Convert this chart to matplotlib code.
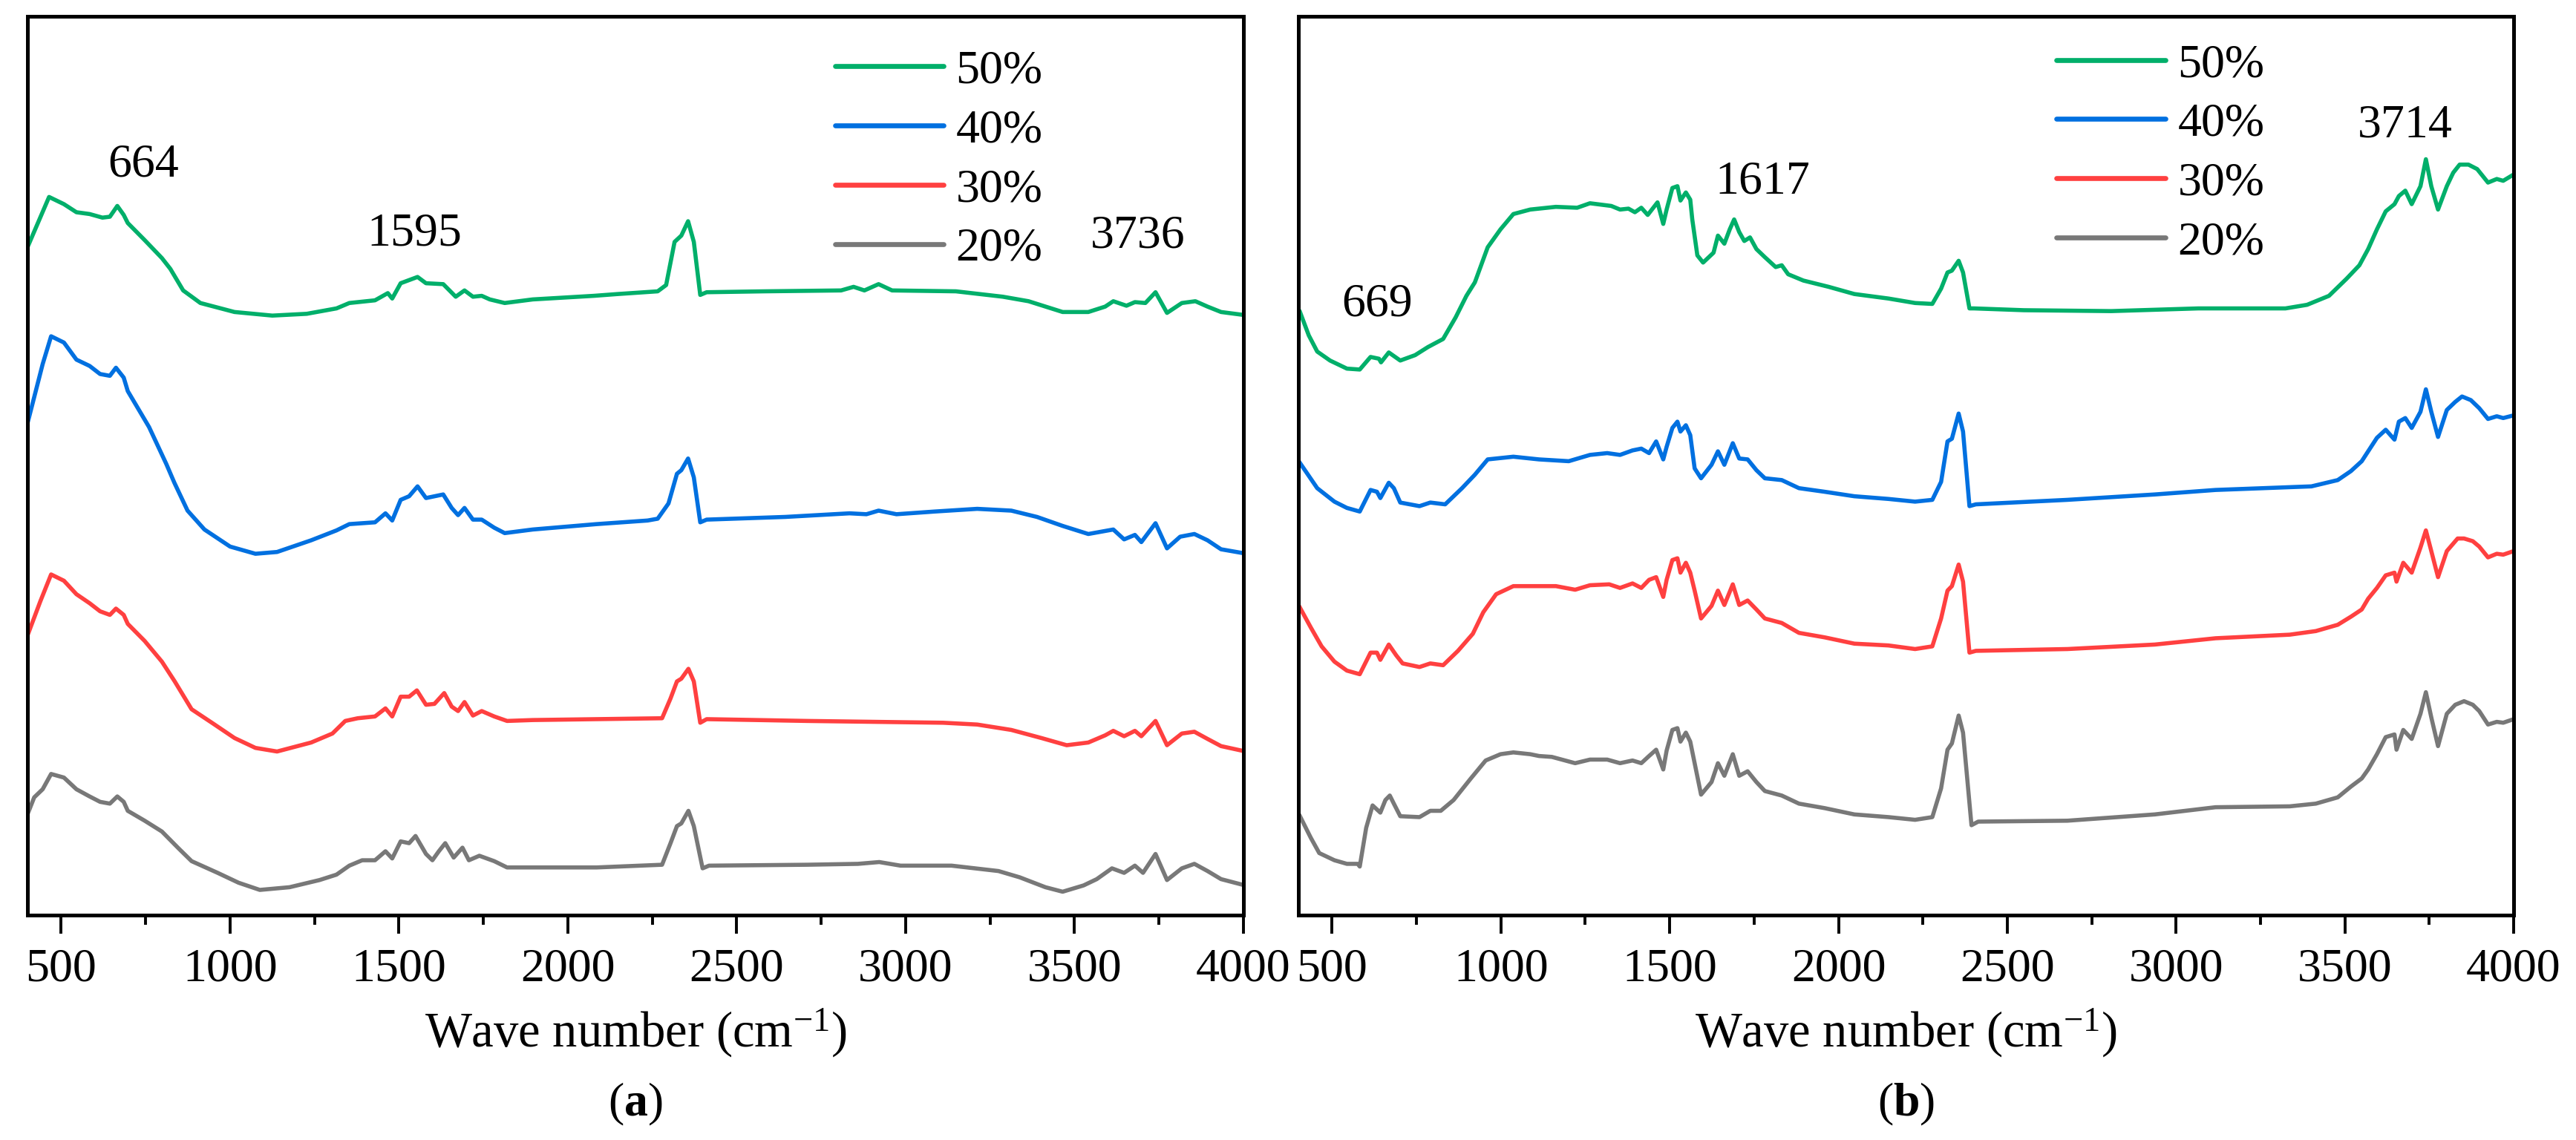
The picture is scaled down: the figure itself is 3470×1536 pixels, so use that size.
import matplotlib
matplotlib.use("Agg")
import matplotlib.pyplot as plt
from matplotlib.ticker import MultipleLocator

# ---------------- data (panel a) ----------------
a50_x = [400,464,508,545,584,622,644,666,685,697,747,798,823,861,912,1013,1125,1227,1315,1353,1429,1467,1480,1505,1555,1580,1631,1668,1694,1719,1745,1769,1813,1896,2077,2148,2266,2291,2316,2336,2356,2373,2392,2411,2581,2809,2846,2878,2920,2960,3149,3288,3364,3465,3541,3591,3615,3654,3679,3710,3740,3774,3818,3858,3894,3934,3995]
a50_y = [74.3,79.9,79.1,78.2,78.0,77.6,77.7,78.9,77.9,77.0,75.1,73.1,71.9,69.5,68.1,67.1,66.7,66.9,67.5,68.1,68.4,69.2,68.6,70.3,71.0,70.3,70.2,68.8,69.5,68.8,68.9,68.5,68.1,68.5,68.9,69.1,69.4,70.1,74.9,75.6,77.2,74.9,69.0,69.3,69.4,69.5,69.9,69.5,70.2,69.5,69.4,68.8,68.3,67.1,67.1,67.7,68.3,67.8,68.2,68.1,69.3,67.0,68.1,68.3,67.7,67.1,66.8]

a40_x = [400,445,470,508,545,584,615,644,662,685,697,760,811,835,874,924,1000,1075,1139,1240,1315,1353,1429,1460,1480,1505,1530,1555,1580,1631,1656,1675,1694,1719,1745,1782,1813,1896,2085,2236,2266,2298,2323,2336,2356,2373,2392,2411,2644,2834,2884,2920,2973,3086,3212,3313,3389,3465,3541,3615,3647,3679,3698,3740,3774,3813,3855,3894,3934,3995]
a40_y = [54.7,61.3,64.4,63.7,61.8,61.1,60.2,60.0,60.9,59.8,58.3,54.3,50.2,48.1,45.0,42.9,41.0,40.2,40.4,41.7,42.8,43.5,43.7,44.7,43.9,46.2,46.6,47.7,46.4,46.8,45.3,44.5,45.3,44.0,44.0,43.1,42.5,42.9,43.5,43.9,44.1,45.8,49.1,49.5,50.8,48.7,43.7,44.0,44.3,44.7,44.6,45.0,44.6,44.9,45.2,45.0,44.3,43.3,42.4,42.9,41.8,42.3,41.5,43.6,40.8,42.1,42.4,41.7,40.7,40.3]

a30_x = [400,438,470,508,545,584,615,644,662,685,697,747,798,836,886,950,1013,1075,1139,1240,1303,1341,1378,1429,1460,1480,1505,1530,1553,1580,1605,1634,1656,1675,1694,1719,1745,1782,1820,1896,2085,2279,2304,2323,2336,2357,2373,2392,2411,2708,3111,3212,3313,3402,3477,3541,3591,3615,3647,3679,3698,3740,3774,3818,3855,3894,3934,3995]
a30_y = [31.1,34.9,37.9,37.2,35.7,34.7,33.8,33.4,34.1,33.4,32.4,30.5,28.2,26.0,22.9,21.3,19.7,18.6,18.2,19.2,20.2,21.6,21.9,22.1,23.0,22.1,24.3,24.3,25.0,23.4,23.5,24.7,23.2,22.7,23.7,22.2,22.7,22.1,21.6,21.7,21.8,21.9,24.1,26.0,26.3,27.4,26.0,21.4,21.8,21.6,21.4,21.2,20.6,19.7,18.9,19.2,20.0,20.5,19.9,20.5,19.9,21.6,18.9,20.2,20.4,19.6,18.8,18.3]

a20_x = [400,420,445,470,508,545,584,615,644,666,685,697,747,798,848,886,963,1025,1088,1176,1265,1315,1353,1391,1429,1460,1480,1505,1530,1549,1580,1599,1618,1637,1662,1688,1707,1738,1782,1820,1896,2085,2279,2304,2323,2336,2357,2373,2399,2418,2708,2859,2922,2985,3136,3275,3338,3414,3465,3527,3566,3611,3647,3679,3703,3740,3774,3818,3855,3894,3934,3995]
a20_y = [11.2,13.1,14.0,15.7,15.3,14.0,13.2,12.6,12.4,13.2,12.6,11.6,10.5,9.3,7.4,6.0,4.7,3.6,2.8,3.1,3.9,4.5,5.5,6.1,6.1,7.1,6.3,8.2,8.0,8.8,6.8,6.1,7.1,8.0,6.4,7.5,6.1,6.6,6.0,5.3,5.3,5.3,5.6,8.0,9.9,10.2,11.6,9.9,5.2,5.5,5.6,5.7,5.9,5.5,5.5,4.9,4.2,3.1,2.6,3.3,4.0,5.2,4.7,5.5,4.7,6.8,3.9,5.2,5.7,4.9,4.0,3.4]

# ---------------- data (panel b) ----------------
b50_x = [405,431,456,494,544,582,614,639,645,668,702,746,784,829,866,898,923,961,999,1037,1087,1163,1226,1264,1327,1353,1378,1397,1416,1435,1464,1481,1491,1508,1523,1532,1548,1561,1567,1582,1599,1630,1643,1662,1678,1691,1706,1721,1738,1757,1782,1814,1832,1851,1896,1971,2047,2148,2227,2278,2304,2323,2336,2356,2369,2388,2401,2549,2808,3066,3324,3388,3453,3505,3543,3569,3595,3621,3647,3660,3679,3698,3724,3740,3756,3776,3802,3821,3840,3866,3892,3924,3950,3969,4000]
b50_y = [67.1,64.5,62.7,61.7,60.8,60.7,62.1,61.9,61.5,62.6,61.7,62.3,63.2,64.1,66.5,68.9,70.4,74.3,76.3,78.0,78.5,78.8,78.7,79.2,78.9,78.5,78.6,78.2,78.7,77.9,79.3,76.9,78.5,80.9,81.1,79.5,80.4,79.6,77.4,73.4,72.6,73.7,75.6,74.7,76.3,77.4,76.0,75.0,75.4,74.1,73.2,72.1,72.3,71.3,70.6,69.9,69.1,68.6,68.1,68.0,69.7,71.5,71.7,72.8,71.5,67.5,67.5,67.3,67.2,67.5,67.5,67.9,68.9,70.8,72.3,74.1,76.3,78.3,79.1,80.0,80.6,79.1,81.1,84.1,81.1,78.5,81.1,82.6,83.5,83.5,83.0,81.5,81.9,81.7,82.4]

b40_x = [405,456,507,544,582,614,633,643,668,683,702,759,791,835,885,923,961,1037,1113,1201,1264,1315,1353,1390,1416,1439,1460,1481,1491,1508,1523,1532,1548,1561,1574,1593,1624,1643,1662,1687,1706,1731,1757,1782,1832,1883,1959,2047,2148,2227,2278,2304,2323,2336,2356,2369,2388,2407,2678,2937,3117,3401,3479,3518,3550,3569,3595,3621,3647,3660,3679,3698,3724,3740,3756,3776,3802,3827,3847,3873,3898,3924,3950,3969,4000]
b40_y = [50.3,47.5,46.0,45.3,44.9,47.3,47.1,46.4,48.1,47.5,45.9,45.5,45.9,45.7,47.5,49.0,50.7,51.0,50.7,50.5,51.2,51.4,51.2,51.7,51.9,51.4,52.7,50.7,52.1,54.2,54.9,53.8,54.5,53.4,49.7,48.6,50.1,51.6,50.1,52.5,50.8,50.7,49.5,48.6,48.4,47.5,47.1,46.6,46.3,46.0,46.2,48.2,52.7,53.0,55.8,53.8,45.5,45.7,46.2,46.8,47.3,47.7,48.4,49.4,50.5,51.6,53.1,54.0,52.9,54.9,55.3,54.2,56.0,58.5,56.0,53.2,56.2,57.1,57.7,57.3,56.4,55.2,55.5,55.3,55.6]

b30_x = [405,437,469,507,544,582,614,633,643,668,690,709,759,791,829,873,917,948,986,1037,1113,1163,1220,1264,1321,1353,1390,1416,1439,1460,1481,1491,1508,1523,1532,1548,1561,1574,1593,1624,1643,1662,1687,1706,1731,1757,1782,1832,1883,1959,2047,2148,2227,2278,2304,2323,2336,2356,2369,2388,2407,2678,2937,3117,3337,3414,3479,3518,3550,3569,3595,3621,3647,3653,3673,3698,3724,3740,3756,3776,3802,3834,3853,3879,3898,3924,3950,3969,4000]
b30_y = [34.2,32.0,29.9,28.2,27.2,26.8,29.2,29.2,28.4,30.1,28.9,28.0,27.6,28.0,27.8,29.4,31.3,33.7,35.7,36.6,36.6,36.6,36.2,36.7,36.8,36.4,36.9,36.4,37.3,37.6,35.4,37.3,39.5,39.7,38.1,39.2,38.1,36.1,33.0,34.4,36.1,34.5,36.8,34.5,35.0,34.0,33.0,32.5,31.4,30.9,30.2,30.0,29.6,29.9,33.0,36.1,36.6,39.0,37.1,29.2,29.4,29.6,30.1,30.8,31.2,31.6,32.3,33.2,34.0,35.2,36.4,37.8,38.1,37.1,39.2,38.1,40.9,42.8,40.5,37.6,40.5,41.9,41.9,41.6,41.0,39.8,40.2,40.1,40.5]

b20_x = [405,437,462,507,544,576,582,601,620,643,658,671,683,702,759,791,822,860,911,955,999,1037,1087,1113,1151,1220,1264,1315,1353,1390,1416,1439,1460,1481,1491,1508,1523,1532,1548,1561,1574,1593,1624,1643,1662,1687,1706,1731,1757,1782,1832,1883,1959,2047,2148,2227,2278,2304,2323,2336,2356,2369,2394,2414,2678,2937,3117,3337,3414,3479,3518,3550,3569,3595,3621,3647,3653,3673,3698,3724,3740,3756,3776,3802,3827,3853,3879,3898,3924,3950,3969,4000]
b20_y = [11.0,8.6,6.9,6.1,5.7,5.7,5.4,9.7,12.2,11.4,12.8,13.3,12.4,11.0,10.9,11.6,11.6,12.8,15.2,17.2,17.9,18.1,17.9,17.7,17.6,16.9,17.3,17.3,16.9,17.2,16.9,17.7,18.4,16.2,18.3,20.6,20.8,19.3,20.3,19.3,16.9,13.4,14.8,16.9,15.5,17.9,15.5,16.0,14.8,13.8,13.3,12.4,11.9,11.2,10.9,10.6,10.9,14.1,18.4,19.1,22.2,20.3,10.0,10.4,10.5,11.2,12.0,12.1,12.4,13.1,14.3,15.2,16.2,17.9,19.8,20.1,18.4,20.6,19.6,22.4,24.8,22.0,18.8,22.4,23.4,23.8,23.4,22.7,21.2,21.5,21.4,21.8]

series_labels = ["50%", "40%", "30%", "20%"]
series_colors = ["#00AF6A", "#0070E0", "#FF4040", "#787878"]

peak_labels_a = ["664", "1595", "3736"]
peak_pos_a_x = [743, 1545, 3688]
peak_pos_a_y = [83.4, 75.8, 75.5]
peak_labels_b = ["669", "1617", "3714"]
peak_pos_b_x = [633, 1776, 3679]
peak_pos_b_y = [67.9, 81.5, 87.8]

xticks = [500, 1000, 1500, 2000, 2500, 3000, 3500, 4000]
xlabel_text = r"Wave number (cm$^{-1}$)"
panel_tags = [r"($\mathbf{a}$)", r"($\mathbf{b}$)"]

# ---------------- style ----------------
plt.rcParams['font.family'] = ['Liberation Serif', 'DejaVu Serif']
plt.rcParams['mathtext.fontset'] = 'custom'
plt.rcParams['mathtext.rm'] = 'Liberation Serif'
plt.rcParams['mathtext.it'] = 'Liberation Serif:italic'
plt.rcParams['mathtext.bf'] = 'Liberation Serif:bold'

FS = 46
LW = 4.0

fig = plt.figure(figsize=(34.7, 15.36), dpi=100)
axa = fig.add_axes([0.01066, 0.1973, 0.4720, 0.7884])
axb = fig.add_axes([0.5040, 0.1973, 0.4718, 0.7884])

panels = [
    (axa, [(a50_x, a50_y), (a40_x, a40_y), (a30_x, a30_y), (a20_x, a20_y)],
     peak_labels_a, peak_pos_a_x, peak_pos_a_y, (0.664, 0.963)),
    (axb, [(b50_x, b50_y), (b40_x, b40_y), (b30_x, b30_y), (b20_x, b20_y)],
     peak_labels_b, peak_pos_b_x, peak_pos_b_y, (0.624, 0.970)),
]

for i, (ax, data, plabels, px, py, legpos) in enumerate(panels):
    handles = []
    for (xs, ys), lab, col in zip(data, series_labels, series_colors):
        h, = ax.plot(xs, ys, color=col, lw=LW, label=lab, solid_joinstyle='round')
        handles.append(h)
    for t, x, y in zip(plabels, px, py):
        ax.text(x, y, t, fontsize=FS, ha='center', va='center')
    ax.set_xlim(400, 4000)
    ax.set_ylim(0, 100)
    ax.set_yticks([])
    ax.set_xticks(xticks)
    ax.xaxis.set_minor_locator(MultipleLocator(250))
    ax.tick_params(axis='x', which='major', direction='out', length=18, width=2.8,
                   labelsize=FS, pad=14, top=False)
    ax.tick_params(axis='x', which='minor', direction='out', length=9.5, width=2.8, top=False)
    for sp in ax.spines.values():
        sp.set_linewidth(3.6)
    leg = ax.legend(handles=handles, loc='upper left', bbox_to_anchor=legpos,
                    frameon=False, fontsize=FS, handlelength=2.3, handletextpad=0.25,
                    labelspacing=0.33, borderpad=0, borderaxespad=0)
    for lh in leg.get_lines():
        lh.set_linewidth(LW * 1.2)
        lh.set_solid_capstyle('round')
    pos = ax.get_position()
    cx = pos.x0 + pos.width / 2
    fig.text(cx, 0.094, xlabel_text, fontsize=FS + 2, ha='center', va='center')
    fig.text(cx, 0.031, panel_tags[i], fontsize=FS, ha='center', va='center')

fig.savefig("out.png", dpi=100, facecolor='white')
